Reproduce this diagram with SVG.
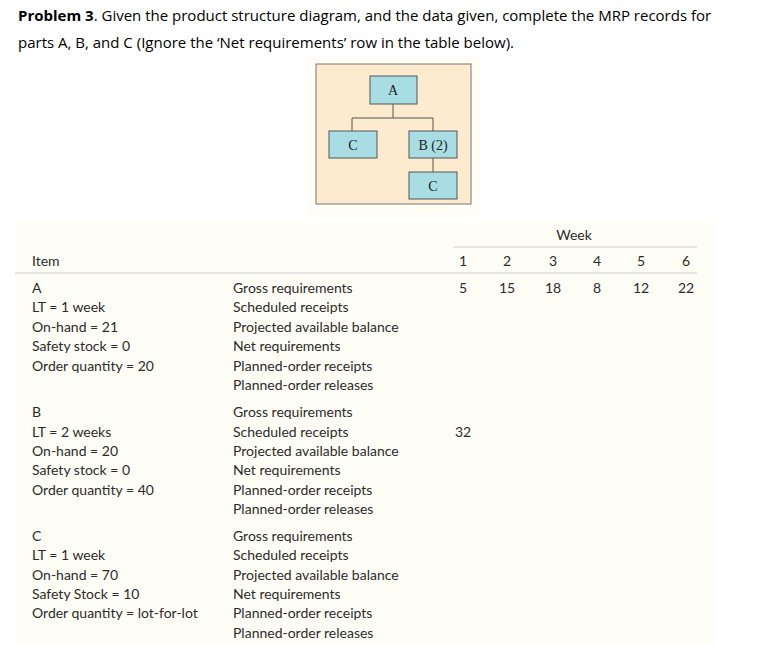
<svg xmlns="http://www.w3.org/2000/svg" width="781" height="645" viewBox="0 0 781 645">
<style>
.t{font-family:"Open Sans","Liberation Sans",sans-serif;font-size:15px;fill:#000}
.c{font-family:Lato,"Liberation Sans",sans-serif;font-size:14px;fill:#2b2b2b}
.n{text-anchor:middle}
.box{fill:#a8dde3;stroke:#555;stroke-width:1}
.bt{font-family:"Liberation Serif",serif;font-size:14px;text-anchor:middle;fill:#222}
.ln{stroke:#555;stroke-width:1;fill:none}
</style>
<rect width="781" height="645" fill="#fff"/>
<text class="t" x="18" y="21"><tspan font-weight="bold">Problem 3</tspan>. Given the product structure diagram, and the data given, complete the MRP records for</text>
<text class="t" x="18" y="48">parts A, B, and C (Ignore the ‘Net requirements’ row in the table below).</text>
<rect x="306" y="56" width="175" height="162" fill="#fffef6"/>
<rect x="316" y="64" width="155" height="140" fill="#fdebd0" stroke="#777" stroke-width="1"/>
<g id="connectors">
<path class="ln" d="M393 104V118M352 131V118H433V131M433 158V172"/>
</g>
<g id="nodeA"><rect class="box" x="370" y="76" width="47" height="28"/><text class="bt" x="393" y="95">A</text></g>
<g id="nodeC1"><rect class="box" x="329" y="131" width="48" height="27"/><text class="bt" x="353" y="150">C</text></g>
<g id="nodeB"><rect class="box" x="409" y="131" width="48" height="27"/><text class="bt" x="433" y="150">B (2)</text></g>
<g id="nodeC2"><rect class="box" x="409" y="172" width="48" height="27"/><text class="bt" x="433" y="191">C</text></g>
<rect x="15" y="222" width="700" height="423" fill="#fffef6"/>
<text class="c n" x="574" y="240">Week</text>
<line x1="453" y1="247" x2="697" y2="247" stroke="#ccc"/>
<text class="c" x="32" y="266">Item</text>
<g class="c n"><text x="463" y="266">1</text><text x="507" y="266">2</text><text x="553" y="266">3</text><text x="597" y="266">4</text><text x="641" y="266">5</text><text x="686" y="266">6</text></g>
<line x1="15" y1="273" x2="697" y2="273" stroke="#ccc"/>
<g class="c">
<text x="32" y="293">A</text><text x="32" y="312">LT = 1 week</text><text x="32" y="332">On-hand = 21</text><text x="32" y="351">Safety stock = 0</text><text x="32" y="371">Order quantity = 20</text>
<text x="233" y="293">Gross requirements</text><text x="233" y="312">Scheduled receipts</text><text x="233" y="332">Projected available balance</text><text x="233" y="351">Net requirements</text><text x="233" y="371">Planned-order receipts</text><text x="233" y="390">Planned-order releases</text>
<text x="32" y="417">B</text><text x="32" y="437">LT = 2 weeks</text><text x="32" y="456">On-hand = 20</text><text x="32" y="475">Safety stock = 0</text><text x="32" y="495">Order quantity = 40</text>
<text x="233" y="417">Gross requirements</text><text x="233" y="437">Scheduled receipts</text><text x="233" y="456">Projected available balance</text><text x="233" y="475">Net requirements</text><text x="233" y="495">Planned-order receipts</text><text x="233" y="514">Planned-order releases</text>
<text x="32" y="541">C</text><text x="32" y="560">LT = 1 week</text><text x="32" y="580">On-hand = 70</text><text x="32" y="599">Safety Stock = 10</text><text x="32" y="618">Order quantity = lot-for-lot</text>
<text x="233" y="541">Gross requirements</text><text x="233" y="560">Scheduled receipts</text><text x="233" y="580">Projected available balance</text><text x="233" y="599">Net requirements</text><text x="233" y="618">Planned-order receipts</text><text x="233" y="638">Planned-order releases</text>
</g>
<g class="c n"><text x="463" y="293">5</text><text x="507" y="293">15</text><text x="553" y="293">18</text><text x="597" y="293">8</text><text x="641" y="293">12</text><text x="686" y="293">22</text>
<text x="463" y="437">32</text></g>
</svg>
